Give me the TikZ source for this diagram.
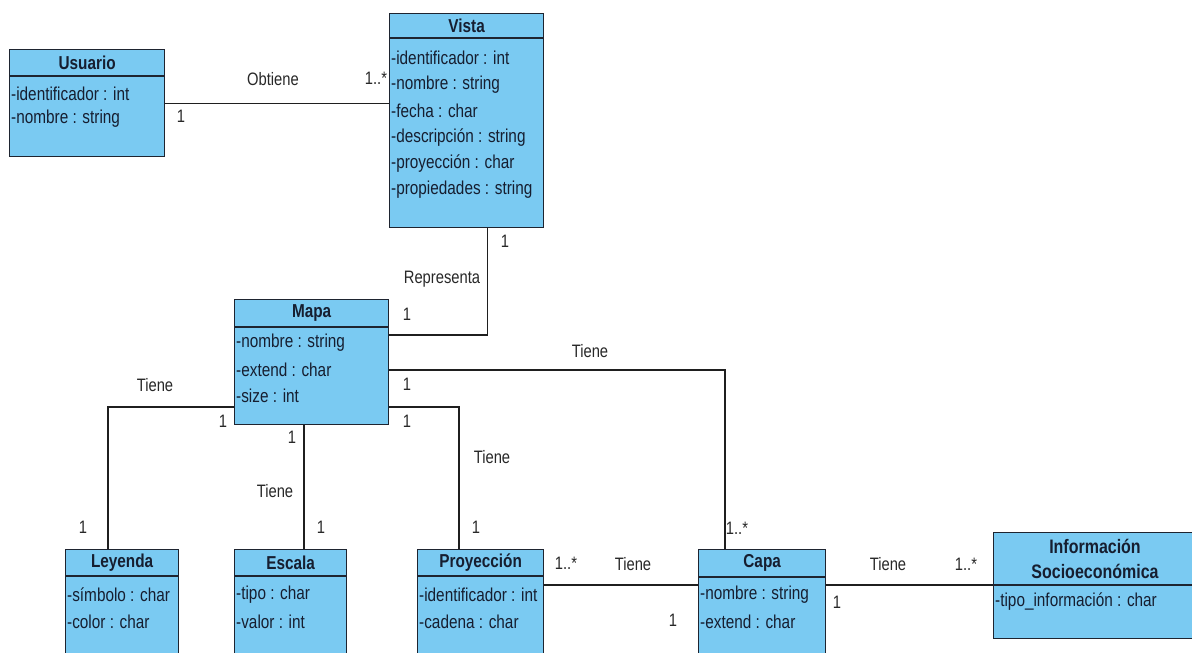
\documentclass[tikz,border=0pt]{standalone}
\usepackage{fontspec}
\setmainfont{Liberation Sans}[FakeStretch=0.82]
\usetikzlibrary{calc}
\definecolor{classfill}{RGB}{122,202,242}
\definecolor{classline}{RGB}{30,36,48}
\definecolor{ink}{RGB}{22,30,48}
\definecolor{labelink}{RGB}{40,40,40}

% a class: name, left, top, width, height, header height
\newcommand\umlclass[6]{%
  \node[classbox, minimum width=#4pt, minimum height=#5pt] (#1) at (#2,#3) {};
  \draw[sepline] ($(#1.north west)+(0,#6)$) -- ($(#1.north east)+(0,#6)$);
}

\begin{document}
\begin{tikzpicture}[x=1pt,y=-1pt,
  classbox/.style={draw=classline, fill=classfill, line width=1.3pt, rectangle, inner sep=0pt, anchor=north west},
  sepline/.style={draw=classline, line width=1.3pt},
  ctitle/.style={font=\fontsize{18.7}{25}\selectfont\bfseries, text=ink, inner sep=0pt, align=center},
  attr/.style={font=\fontsize{18.7}{20}\selectfont, text=ink, anchor=west, inner sep=0pt},
  lbl/.style={font=\fontsize{18}{20}\selectfont, text=labelink, inner sep=0pt},
  assoc/.style={draw=black!88, line width=1.1pt}]
\useasboundingbox (0,0) rectangle (1192,653);
\clip (0,0) rectangle (1192,653);
\fill[white] (0,0) rectangle (1192,653);

% ---------- classes ----------
\umlclass{usuario}{9}{49}{155}{107}{27}
\umlclass{vista}{389}{13}{154}{214}{25}
\umlclass{mapa}{234}{299}{154}{125}{28}
\umlclass{leyenda}{65}{549}{113}{130}{27}
\umlclass{escala}{234}{549}{112}{130}{27}
\umlclass{proy}{417}{549}{126}{130}{27}
\umlclass{capa}{698}{549}{127}{130}{28}
\umlclass{info}{993}{532}{220}{106}{53}

% ---------- associations ----------
\draw[assoc] (usuario.east) -- (usuario.east -| vista.west);
\draw[assoc] ($(vista.south)+(21,0)$) |- ($(mapa.north east)+(0,36)$);
\draw[assoc] ($(mapa.north east)+(0,71)$) -| ($(capa.north west)+(27,0)$);
\draw[assoc] ($(mapa.north east)+(0,108)$) -| ($(proy.north west)+(42,0)$);
\draw[assoc] ($(mapa.north west)+(0,108)$) -| ($(leyenda.north west)+(43,0)$);
\draw[assoc] ($(mapa.south west)+(70,0)$) -- ($(escala.north west)+(70,0)$);
\draw[assoc] ($(proy.north east)+(0,36)$) -- ($(capa.north west)+(0,36)$);
\draw[assoc] ($(capa.north east)+(0,36)$) -- ($(info.north west)+(0,53)$);

% ---------- class contents ----------
\node[ctitle] (usuario-t) at ($(usuario.north)+(0,14)$) {Usuario};
\node[attr] (usuario-a1) at ($(usuario.north west)+(2,45)$) {-identificador : int};
\node[attr] (usuario-a2) at ($(usuario.north west)+(2,70)$) {-nombre : string};

\node[ctitle] (vista-t) at ($(vista.north)+(0,13)$) {Vista};
\node[attr] (vista-a1) at ($(vista.north west)+(2,45)$) {-identificador : int};
\node[attr] (vista-a2) at ($(vista.north west)+(2,71.4)$) {-nombre : string};
\node[attr] (vista-a3) at ($(vista.north west)+(2,97.8)$) {-fecha : char};
\node[attr] (vista-a4) at ($(vista.north west)+(2,124.2)$) {-descripción : string};
\node[attr] (vista-a5) at ($(vista.north west)+(2,150.6)$) {-proyección : char};
\node[attr] (vista-a6) at ($(vista.north west)+(2,177)$) {-propiedades : string};

\node[ctitle] (mapa-t) at ($(mapa.north)+(0,14)$) {Mapa};
\node[attr] (mapa-a1) at ($(mapa.north west)+(2,44)$) {-nombre : string};
\node[attr] (mapa-a2) at ($(mapa.north west)+(2,71)$) {-extend : char};
\node[attr] (mapa-a3) at ($(mapa.north west)+(2,97)$) {-size : int};

\node[ctitle] (leyenda-t) at ($(leyenda.north)+(0,14)$) {Leyenda};
\node[attr] (leyenda-a1) at ($(leyenda.north west)+(2,46)$) {-símbolo : char};
\node[attr] (leyenda-a2) at ($(leyenda.north west)+(2,73)$) {-color : char};

\node[ctitle] (escala-t) at ($(escala.north)+(0,14)$) {Escala};
\node[attr] (escala-a1) at ($(escala.north west)+(2,46)$) {-tipo : char};
\node[attr] (escala-a2) at ($(escala.north west)+(2,73)$) {-valor : int};

\node[ctitle] (proy-t) at ($(proy.north)+(0,14)$) {Proyección};
\node[attr] (proy-a1) at ($(proy.north west)+(2,46)$) {-identificador : int};
\node[attr] (proy-a2) at ($(proy.north west)+(2,73)$) {-cadena : char};

\node[ctitle] (capa-t) at ($(capa.north)+(0,14)$) {Capa};
\node[attr] (capa-a1) at ($(capa.north west)+(2,46)$) {-nombre : string};
\node[attr] (capa-a2) at ($(capa.north west)+(2,73)$) {-extend : char};

\node[ctitle, font=\fontsize{19.5}{25}\selectfont\bfseries] (info-t) at ($(info.north west)+(102,27)$) {Información\\Socioeconómica};
\node[attr] (info-a1) at ($(info.north west)+(2,70)$) {-tipo\_información : char};

% ---------- association labels ----------
\node[lbl] (l-obtiene) at (273,79) {Obtiene};
\node[lbl] (m-obt-v) at (376,78) {1..*};
\node[lbl] (m-obt-u) at (181,116) {1};

\node[lbl] (m-rep-v) at (505,241) {1};
\node[lbl] (l-representa) at (442,279) {Representa};
\node[lbl] (m-rep-m) at (407,314) {1};

\node[lbl] (l-tiene-capa) at (590,351) {Tiene};
\node[lbl] (m-capa-m) at (407,384) {1};
\node[lbl] (m-capa-c) at (737,528) {1..*};

\node[lbl] (m-proy-m) at (407,421) {1};
\node[lbl] (l-tiene-proy) at (492,457) {Tiene};
\node[lbl] (m-proy-p) at (476,527) {1};

\node[lbl] (l-tiene-ley) at (155,385) {Tiene};
\node[lbl] (m-ley-m) at (223,421) {1};
\node[lbl] (m-ley-l) at (83,527) {1};

\node[lbl] (m-esc-m) at (292,437) {1};
\node[lbl] (l-tiene-esc) at (275,491) {Tiene};
\node[lbl] (m-esc-e) at (321,527) {1};

\node[lbl] (m-pc-p) at (566,563) {1..*};
\node[lbl] (l-tiene-pc) at (633,564) {Tiene};
\node[lbl] (m-pc-c) at (673,620) {1};

\node[lbl] (m-ci-c) at (837,602) {1};
\node[lbl] (l-tiene-ci) at (888,564) {Tiene};
\node[lbl] (m-ci-i) at (966,564) {1..*};
\end{tikzpicture}
\end{document}
